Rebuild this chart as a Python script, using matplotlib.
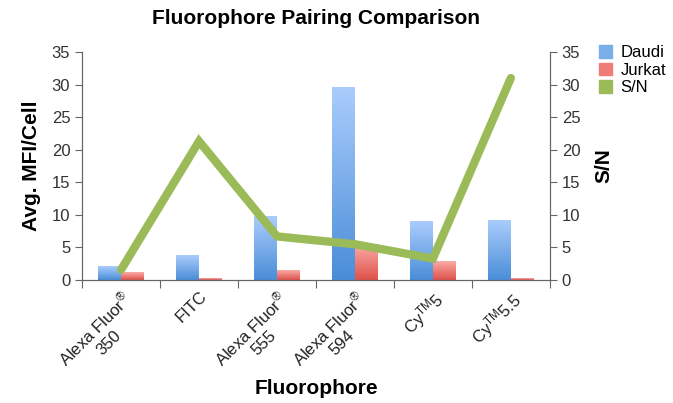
import matplotlib
matplotlib.use("Agg")
import matplotlib.pyplot as plt
import numpy as np
from matplotlib.colors import LinearSegmentedColormap
from matplotlib.patches import Patch

categories = ["Alexa Fluor$^{\u00ae}$\n350", "FITC", "Alexa Fluor$^{\u00ae}$\n555",
              "Alexa Fluor$^{\u00ae}$\n594", "Cy$^{\\mathregular{TM}}$5",
              "Cy$^{\\mathregular{TM}}$5.5"]
daudi = [2.0, 3.7, 9.8, 29.6, 9.0, 9.2]
jurkat = [1.1, 0.3, 1.4, 5.4, 2.8, 0.3]
sn = [1.6, 21.3, 6.7, 5.5, 3.3, 31.0]

plt.rcParams["font.family"] = ["Liberation Sans", "DejaVu Sans"]
plt.rcParams["mathtext.fontset"] = "custom"
plt.rcParams["mathtext.rm"] = "Liberation Sans"
plt.rcParams["mathtext.it"] = "Liberation Sans"
plt.rcParams["mathtext.default"] = "regular"

fig = plt.figure(figsize=(6.73, 4.03), dpi=100)
ax = fig.add_axes([0.122, 0.305, 0.695, 0.566])
ax2 = ax.twinx()

x = np.arange(len(categories))
w = 0.29

blue = LinearSegmentedColormap.from_list("b", ["#4a8ed8", "#aaccfc"])
red = LinearSegmentedColormap.from_list("r", ["#de524b", "#fbaaa6"])
grad = np.linspace(0, 1, 100).reshape(-1, 1)

def gradient_bars(xs, vals, cmap):
    for xi, v in zip(xs, vals):
        ax.imshow(grad, cmap=cmap, origin="lower", aspect="auto",
                  extent=[xi - w / 2, xi + w / 2, 0, v], zorder=2)

gradient_bars(x - w / 2, daudi, blue)
gradient_bars(x + w / 2, jurkat, red)

ax2.plot(x, sn, color="#9bbb59", lw=6, solid_capstyle="round",
         solid_joinstyle="miter", zorder=3)

ax.set_xlim(-0.5, len(categories) - 0.5)
ax.set_ylim(0, 35)
ax2.set_ylim(0, 35)
ax.set_yticks(range(0, 36, 5))
ax2.set_yticks(range(0, 36, 5))
ax.set_xticks(np.arange(-0.5, len(categories), 1))
ax.set_xticklabels([])
ax.set_xticks(x, minor=True)
ax.set_xticklabels(categories, minor=True, rotation=45, ha="right",
                   rotation_mode="anchor", fontsize=12, color="#222222",
                   multialignment="center")
ax.tick_params(axis="x", which="minor", length=0, pad=6)
ax.tick_params(axis="x", which="major", length=6, color="#666666")

for a in (ax, ax2):
    a.spines["top"].set_visible(False)
    for s in ("left", "right", "bottom"):
        a.spines[s].set_color("#666666")
    a.tick_params(axis="y", labelsize=12, colors="#333333", length=5)
    a.tick_params(axis="y", color="#666666")

ax.set_ylabel("Avg. MFI/Cell", fontsize=15, fontweight="bold", labelpad=8)
ax2.set_ylabel("S/N", fontsize=15, fontweight="bold", labelpad=10)
fig.text(316 / 673, 1 - 388 / 403, "Fluorophore", fontsize=15,
         fontweight="bold", ha="center", va="center")
ax.set_title("Fluorophore Pairing Comparison", fontsize=15,
             fontweight="bold", pad=20)

handles = [Patch(color="#7aaee8"), Patch(color="#f07c77"), Patch(color="#9bbb59")]
fig.legend(handles, ["Daudi", "Jurkat", "S/N"], loc="upper left",
           bbox_to_anchor=(0.88, 0.905), frameon=False, fontsize=12,
           handlelength=0.8, handleheight=0.8, handletextpad=0.5,
           labelspacing=0.15, borderaxespad=0)

fig.savefig("out.png", dpi=100)
